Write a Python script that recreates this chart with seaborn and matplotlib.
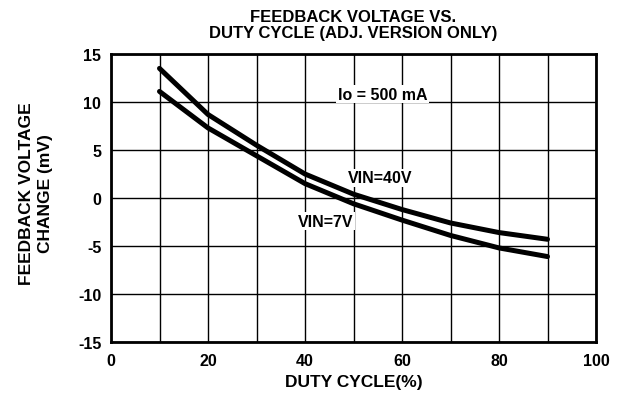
import seaborn as sns
import pandas as pd
import matplotlib.pyplot as plt
from matplotlib.ticker import MultipleLocator

# data
duty = [10, 20, 30, 40, 50, 60, 70, 80, 90]
vin40 = [13.5, 8.7, 5.5, 2.5, 0.4, -1.2, -2.6, -3.6, -4.3]
vin7 = [11.1, 7.3, 4.4, 1.5, -0.6, -2.3, -3.9, -5.2, -6.1]

df = pd.DataFrame({"duty": duty * 2,
                   "dv": vin40 + vin7,
                   "series": ["VIN=40V"] * len(duty) + ["VIN=7V"] * len(duty)})

sns.set_theme(style="white")
plt.rcParams['font.family'] = ['Liberation Sans', 'DejaVu Sans']
plt.rcParams['font.weight'] = 'bold'
plt.rcParams['axes.unicode_minus'] = False
plt.rcParams['text.color'] = 'black'

fig = plt.figure(figsize=(6.27, 4.10), dpi=100)
ax = fig.add_axes([111 / 627, 1 - 343 / 410, 485 / 627, 288 / 410])

sns.lineplot(data=df, x="duty", y="dv", hue="series",
             palette=["black", "black"], linewidth=3.6, legend=False, ax=ax)

ax.set_xlim(0, 100)
ax.set_ylim(-15, 15)
ax.xaxis.set_major_locator(MultipleLocator(20))
ax.xaxis.set_minor_locator(MultipleLocator(10))
ax.yaxis.set_major_locator(MultipleLocator(5))
ax.grid(True, which="both", color="black", linewidth=1)
ax.tick_params(axis="both", which="both", length=0, labelsize=11.5, colors="black")
ax.tick_params(axis="x", pad=8)
ax.tick_params(axis="y", pad=7)
for s in ax.spines.values():
    s.set_color("black")
    s.set_linewidth(2)

ax.set_xlabel("DUTY CYCLE(%)", fontsize=12.5, fontweight="bold", color="black")
ax.set_ylabel("FEEDBACK VOLTAGE\nCHANGE (mV)", fontsize=12.5, fontweight="bold",
              color="black", linespacing=1.35)
ax.xaxis.set_label_coords(0.5, -0.11)
ax.yaxis.set_label_coords(-0.12, 0.52)
ax.set_title("FEEDBACK VOLTAGE VS.\nDUTY CYCLE (ADJ. VERSION ONLY)",
             fontsize=12, fontweight="bold", color="black", pad=12, linespacing=1.15)

box = dict(facecolor="white", edgecolor="none", pad=1)
ax.text(56, 10.8, "Io = 500 mA", fontsize=11.5, fontweight="bold", ha="center", va="center", bbox=box)
ax.text(55.5, 2.1, "VIN=40V", fontsize=11.5, fontweight="bold", ha="center", va="center", bbox=box)
ax.text(44.3, -2.4, "VIN=7V", fontsize=11.5, fontweight="bold", ha="center", va="center", bbox=box)

plt.savefig("out.png", dpi=100)
